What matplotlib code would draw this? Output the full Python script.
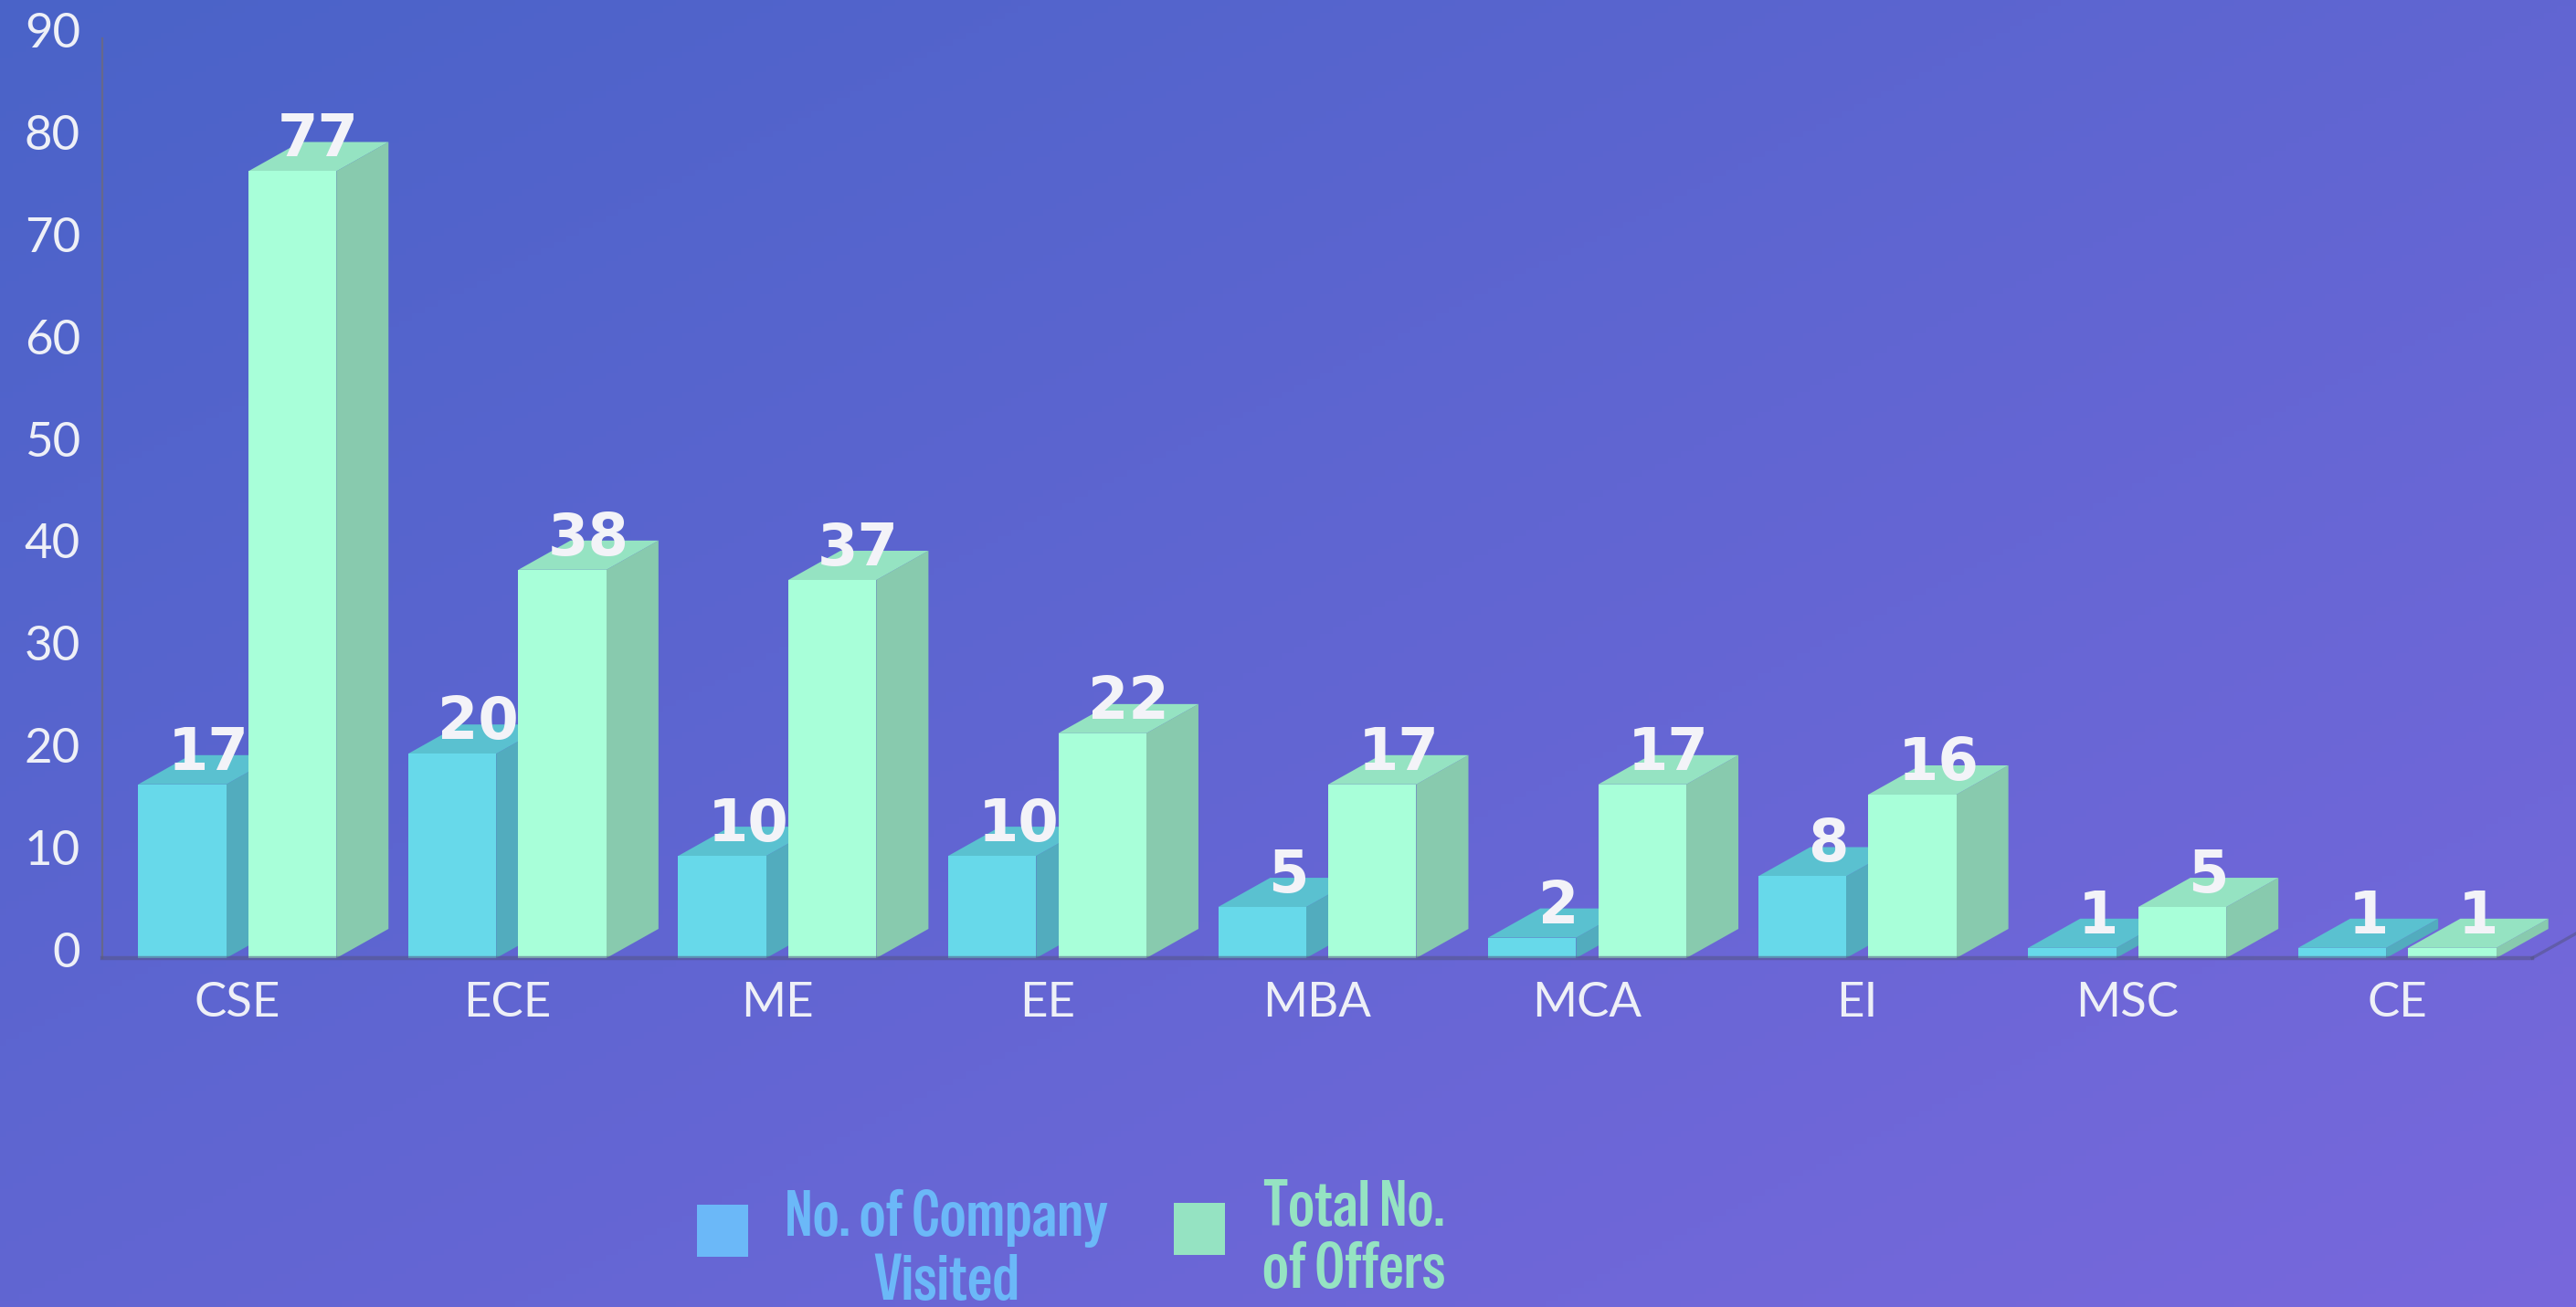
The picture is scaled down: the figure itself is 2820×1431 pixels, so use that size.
import numpy as np
import matplotlib
matplotlib.use('Agg')
import matplotlib.pyplot as plt
from matplotlib.patches import Polygon, Rectangle
from matplotlib import font_manager
from matplotlib.font_manager import FontProperties
from matplotlib.textpath import TextPath
from matplotlib.transforms import offset_copy

# ---------------- data ----------------
categories = ['CSE', 'ECE', 'ME', 'EE', 'MBA', 'MCA', 'EI', 'MSC', 'CE']
companies_visited = [17, 20, 10, 10, 5, 2, 8, 1, 1]
total_offers = [77, 38, 37, 22, 17, 17, 16, 5, 1]
series_names = ['No. of Company\nVisited', 'Total No.\nof Offers']
y_ticks = list(range(0, 91, 10))

# ---------------- style ----------------
W, H, DPI = 2820, 1431, 100
FRONT = ['#67D9EA', '#A8FFD9']
SIDE = ['#52ACBE', '#88CAAE']
TOP = ['#5AC1D0', '#95E3C2']
LEGEND_COL = ['#6BB8F8', '#95E3C2']
TXT = '#EEF0F7'


def pick_condensed(sample='No. of Company', target_ratio=346 / 50.0, cap_px=50.0):
    """Choose the installed narrow font whose width/cap ratio is closest to target."""
    entries = font_manager.fontManager.ttflist
    cands = []
    for f in entries:
        narrow = f.stretch in ('condensed', 'semi-condensed', 'extra-condensed', 'ultra-condensed')
        named = any(k in f.name for k in ('Condensed', 'Narrow', 'Compressed'))
        if (narrow or named) and f.style == 'normal' and f.weight in (300, 350, 400, 'normal', 'light', 'regular'):
            cands.append(FontProperties(fname=f.fname))
    if not cands:
        cands = [FontProperties(family='DejaVu Sans', stretch='condensed')]
    best, best_err, best_cap, best_w = None, 1e9, 1, 1
    for fp in cands:
        try:
            fp.set_size(10)
            cap = TextPath((0, 0), 'H', prop=fp).get_extents().height
            w = TextPath((0, 0), sample, prop=fp).get_extents().width
        except Exception:
            continue
        if cap <= 0:
            continue
        err = abs(np.log((w / cap) / target_ratio))
        if err < best_err:
            best, best_err, best_cap, best_w = fp, err, cap, w
    # size (points) that makes cap height = cap_px, then compromise toward width
    size_h = 10 * (cap_px * 72 / DPI) / best_cap
    ratio = (best_w / best_cap) / target_ratio
    size = size_h / np.sqrt(ratio) if ratio > 1 else size_h
    return best, size

cond_fp, leg_size = pick_condensed()

fig = plt.figure(figsize=(W / DPI, H / DPI), dpi=DPI)

# background gradient
bg = fig.add_axes([0, 0, 1, 1], zorder=-10)
gx = np.linspace(0, 1, 400)[None, :]
gy = np.linspace(0, 1, 200)[:, None]
t = (gx * 0.5 + gy * 0.5)
c0 = np.array([74, 99, 200]) / 255
c1 = np.array([120, 104, 220]) / 255
img = c0[None, None, :] * (1 - t[..., None]) + c1[None, None, :] * t[..., None]
bg.imshow(img, aspect='auto', extent=[0, 1, 0, 1], origin='upper')
bg.axis('off')

ax = fig.add_axes([112 / W, (H - 1049) / H, (2772 - 112) / W, (1049 - 42) / H])
ax.set_facecolor('none')
ax.set_xlim(-0.5, len(categories) - 0.5)
ax.set_ylim(0, 90)

bar_w = 0.326
offsets = [-0.367, 0.041]
dx = 0.193          # depth in x (category units)
dy = 2.86           # depth in y (value units)

for i, cat in enumerate(categories):
    for s, values in enumerate([companies_visited, total_offers]):
        v = values[i]
        x0 = i + offsets[s]
        x1 = x0 + bar_w
        side = Polygon([(x1, 0), (x1, v), (x1 + dx, v + dy), (x1 + dx, dy)],
                       closed=True, facecolor=SIDE[s], edgecolor='none', clip_on=False, zorder=2)
        top = Polygon([(x0, v), (x0 + dx, v + dy), (x1 + dx, v + dy), (x1, v)],
                      closed=True, facecolor=TOP[s], edgecolor='none', clip_on=False, zorder=2)
        front = Rectangle((x0, 0), bar_w, v, facecolor=FRONT[s], edgecolor='none',
                          clip_on=False, zorder=2)
        for p in (side, top, front):
            ax.add_patch(p)
        ax.text(x0 + bar_w / 2 + dx / 2, v + dy / 2, str(v), ha='center', va='baseline',
                fontsize=46, fontweight='bold', family='DejaVu Sans', color='#F3F3F8',
                zorder=5, clip_on=False)

# axes lines
for sp in ['top', 'right']:
    ax.spines[sp].set_visible(False)
ax.spines['left'].set_color('#66688C')
ax.spines['left'].set_linewidth(1.6)
ax.spines['bottom'].set_color((0.33, 0.33, 0.52, 0.55))
ax.spines['bottom'].set_linewidth(3.2)
ax.spines['bottom'].set_zorder(6)
ax.plot([len(categories) - 0.5, len(categories) - 0.5 + dx], [0, dy], color=(0.33, 0.33, 0.52, 0.55),
        lw=2.4, clip_on=False, zorder=6)

ax.set_yticks([])
ax.set_xticks(range(len(categories)))
ax.set_xticklabels(categories, fontsize=38, family='Lato', color=TXT)
ax.tick_params(axis='x', length=0, pad=18.5)

ytr = offset_copy(ax.transData, fig=fig, x=-24, y=4.5, units='dots')
for yv in y_ticks:
    ax.text(-0.5, yv, str(yv), transform=ytr, ha='right', va='center', fontsize=38,
            family='Lato', color=TXT, clip_on=False)

# legend (manual)
leg_sq = [(763, 1319), (1285, 1317)]
leg_cx = [1036, 1482]
leg_base = [(1353, 1423), (1342, 1410)]
for s in range(2):
    sx, sy = leg_sq[s]
    fig.patches.append(Rectangle((sx / W, 1 - (sy + 57) / H), 56 / W, 57 / H,
                                 transform=fig.transFigure, facecolor=LEGEND_COL[s],
                                 edgecolor='none'))
    for line, b in zip(series_names[s].split('\n'), leg_base[s]):
        fp = cond_fp.copy()
        fp.set_size(leg_size)
        fig.text(leg_cx[s] / W, 1 - b / H, line, ha='center', va='baseline',
                 fontproperties=fp, color=LEGEND_COL[s])

fig.savefig('out.png', dpi=DPI)
